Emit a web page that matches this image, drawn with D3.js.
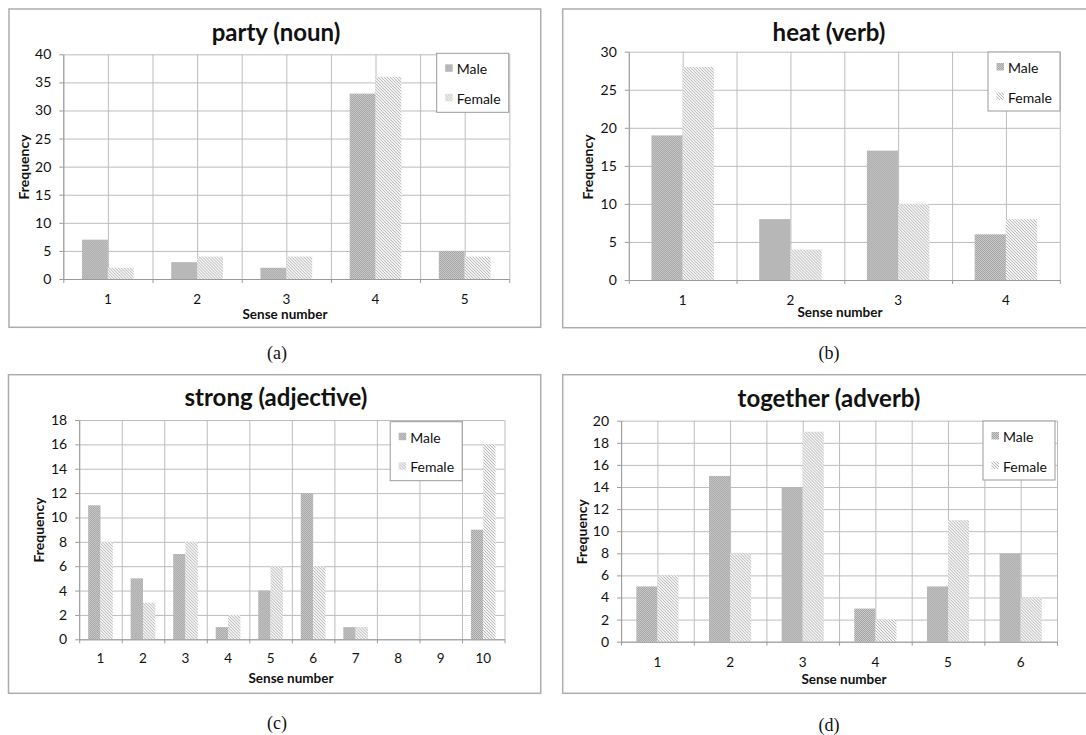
<!DOCTYPE html>
<html>
<head>
<meta charset="utf-8">
<script src="https://cdn.jsdelivr.net/npm/d3@7"></script>
<style>
  body { margin: 0; background: #fff; }
  text { font-family: Lato, "Open Sans", sans-serif; fill: #111; }
  .grid line { stroke: #bdbdbd; stroke-width: 1; }
  .grid path { stroke: none; }
  .axis path, .axis line { stroke: #9a9a9a; stroke-width: 1; }
</style>
</head>
<body>
<div id="chart"></div>
<script>
// ---- data ----
const seriesNames = ["Male", "Female"];

const partySenses = ["1", "2", "3", "4", "5"];
const partyMale = [7, 3, 2, 33, 5];
const partyFemale = [2, 4, 4, 36, 4];

const heatSenses = ["1", "2", "3", "4"];
const heatMale = [19, 8, 17, 6];
const heatFemale = [28, 4, 10, 8];

const strongSenses = ["1", "2", "3", "4", "5", "6", "7", "8", "9", "10"];
const strongMale = [11, 5, 7, 1, 4, 12, 1, 0, 0, 9];
const strongFemale = [8, 3, 8, 2, 6, 6, 1, 0, 0, 16];

const togetherSenses = ["1", "2", "3", "4", "5", "6"];
const togetherMale = [5, 15, 14, 3, 5, 8];
const togetherFemale = [6, 8, 19, 2, 11, 4];

// y axis tick values per chart
const partyTicks = d3.range(0, 41, 5);
const heatTicks = d3.range(0, 31, 5);
const strongTicks = d3.range(0, 19, 2);
const togetherTicks = d3.range(0, 21, 2);

// ---- layout for each panel ----
const panels = [
    { title: "party (noun)", caption: "(a)", cats: partySenses, male: partyMale, female: partyFemale, ticks: partyTicks,
      box: [9, 9, 540.7, 327.3], plot: { l: 63.3, r: 509.3, t: 54.3, b: 279 }, halfGrid: true,
      titleX: 276, titleY: 31, freqX: 23.5, freqY: 167, labelY: 299, senseX: 285, senseY: 314,
      legend: [436.7, 53.3], capX: 277, capY: 353 },
    { title: "heat (verb)", caption: "(b)", cats: heatSenses, male: heatMale, female: heatFemale, ticks: heatTicks,
      box: [562.7, 9, 1100, 327.7], plot: { l: 628.8, r: 1059.8, t: 51.7, b: 280 }, halfGrid: true,
      titleX: 829, titleY: 31, freqX: 587.7, freqY: 167, labelY: 300, senseX: 840, senseY: 312,
      legend: [988, 52], capX: 829, capY: 353 },
    { title: "strong (adjective)", caption: "(c)", cats: strongSenses, male: strongMale, female: strongFemale, ticks: strongTicks,
      box: [8.5, 374.7, 540.7, 693.3], plot: { l: 79.2, r: 504.5, t: 420, b: 639.3 }, halfGrid: false,
      titleX: 276, titleY: 396, freqX: 38, freqY: 530, labelY: 658, senseX: 291, senseY: 677.5,
      legend: [390.2, 421.7], capX: 277, capY: 723 },
    { title: "together (adverb)", caption: "(d)", cats: togetherSenses, male: togetherMale, female: togetherFemale, ticks: togetherTicks,
      box: [562.7, 374.7, 1100, 693.3], plot: { l: 621.1, r: 1057, t: 420.7, b: 641.7 }, halfGrid: true,
      titleX: 829, titleY: 397.5, freqX: 581, freqY: 531.7, labelY: 661.5, senseX: 844, senseY: 679,
      legend: [983, 421], capX: 829, capY: 725 }
];

const svg = d3.select("#chart").append("svg")
    .attr("width", 1086)
    .attr("height", 735);

// fill patterns: fine dotted grey for male, diagonal hatching for female
const defs = svg.append("defs");
const malePat = defs.append("pattern")
    .attr("id", "pat-male")
    .attr("patternUnits", "userSpaceOnUse")
    .attr("width", 2).attr("height", 2);
malePat.append("rect").attr("width", 2).attr("height", 2).attr("fill", "#cbcbcb");
malePat.append("rect").attr("width", 1).attr("height", 1).attr("fill", "#a4a4a4");
malePat.append("rect").attr("x", 1).attr("y", 1).attr("width", 1).attr("height", 1).attr("fill", "#a4a4a4");

const femalePat = defs.append("pattern")
    .attr("id", "pat-female")
    .attr("patternUnits", "userSpaceOnUse")
    .attr("width", 3).attr("height", 3);
femalePat.append("rect").attr("width", 3).attr("height", 3).attr("fill", "#f4f4f4");
femalePat.append("path")
    .attr("d", "M-1,-1 L4,4 M-1,2 L1,4 M2,-1 L4,1")
    .attr("stroke", "#b8b8b8")
    .attr("stroke-width", 1);

const fills = { Male: "url(#pat-male)", Female: "url(#pat-female)" };

panels.forEach(drawPanel);

function drawPanel(p) {
    const g = svg.append("g");
    const [bx0, by0, bx1, by1] = p.box;

    // outer frame
    g.append("rect")
        .attr("x", bx0).attr("y", by0)
        .attr("width", bx1 - bx0).attr("height", by1 - by0)
        .attr("fill", "#fff")
        .attr("stroke", "#adadad")
        .attr("stroke-width", 1.5);

    const y = d3.scaleLinear()
        .domain([0, d3.max(p.ticks)])
        .range([p.plot.b, p.plot.t]);

    const x = d3.scaleBand()
        .domain(p.cats)
        .range([p.plot.l, p.plot.r])
        .padding(0);

    // sub scale for the two series inside a category, group uses ~58% of the band
    const groupFrac = 0.58;
    const xs = d3.scaleBand()
        .domain(seriesNames)
        .range([0, x.bandwidth()])
        .paddingInner(0)
        .paddingOuter((1 / groupFrac - 1));

    // linear helper for category boundaries / half steps
    const xb = d3.scaleLinear()
        .domain([0, p.cats.length])
        .range([p.plot.l, p.plot.r]);
    const step = p.halfGrid ? 0.5 : 1;
    const vLines = d3.range(0, p.cats.length + 0.001, step);

    // horizontal grid
    g.append("g")
        .attr("class", "grid")
        .attr("transform", "translate(" + p.plot.l + ",0)")
        .call(d3.axisLeft(y).tickValues(p.ticks).tickSize(-(p.plot.r - p.plot.l)).tickFormat(""));

    // vertical grid
    g.append("g")
        .attr("class", "grid")
        .attr("transform", "translate(0," + p.plot.b + ")")
        .call(d3.axisBottom(xb).tickValues(vLines).tickSize(-(p.plot.b - p.plot.t)).tickFormat(""));

    // bars
    const rows = p.cats.map((c, i) => ({ cat: c, Male: p.male[i], Female: p.female[i] }));
    g.append("g")
        .selectAll("g")
        .data(rows)
        .join("g")
        .attr("transform", d => "translate(" + x(d.cat) + ",0)")
        .selectAll("rect")
        .data(d => seriesNames.map(s => ({ key: s, value: d[s] })))
        .join("rect")
        .attr("x", d => xs(d.key))
        .attr("width", xs.bandwidth())
        .attr("y", d => y(d.value))
        .attr("height", d => y(0) - y(d.value))
        .attr("fill", d => fills[d.key]);

    // y axis
    const yAxis = g.append("g")
        .attr("class", "axis")
        .attr("transform", "translate(" + p.plot.l + ",0)")
        .call(d3.axisLeft(y).tickValues(p.ticks).tickSize(4).tickPadding(8).tickSizeOuter(0));
    yAxis.selectAll("text").style("font-size", "14px").style("fill", "#111");

    // x axis: ticks at category boundaries, labels at centers
    g.append("g")
        .attr("class", "axis")
        .attr("transform", "translate(0," + p.plot.b + ")")
        .call(d3.axisBottom(xb).tickValues(d3.range(0, p.cats.length + 1)).tickSize(4).tickSizeOuter(0).tickFormat(""));

    g.append("g")
        .selectAll("text")
        .data(p.cats)
        .join("text")
        .attr("x", d => x(d) + x.bandwidth() / 2)
        .attr("y", p.labelY)
        .attr("text-anchor", "middle")
        .attr("dominant-baseline", "central")
        .style("font-size", "13.5px")
        .text(d => d);

    // titles
    g.append("text")
        .attr("x", p.titleX).attr("y", p.titleY)
        .attr("text-anchor", "middle")
        .attr("dominant-baseline", "central")
        .style("font-size", "24px")
        .style("font-weight", "bold")
        .text(p.title);

    g.append("text")
        .attr("x", p.senseX).attr("y", p.senseY)
        .attr("text-anchor", "middle")
        .attr("dominant-baseline", "central")
        .style("font-size", "13.5px")
        .style("font-weight", "bold")
        .text("Sense number");

    g.append("text")
        .attr("transform", "translate(" + p.freqX + "," + p.freqY + ") rotate(-90)")
        .attr("text-anchor", "middle")
        .attr("dominant-baseline", "central")
        .style("font-size", "14px")
        .style("font-weight", "bold")
        .text("Frequency");

    // legend
    const lg = g.append("g").attr("transform", "translate(" + p.legend[0] + "," + p.legend[1] + ")");
    lg.append("rect")
        .attr("width", 72).attr("height", 59)
        .attr("fill", "#fff")
        .attr("stroke", "#9a9a9a")
        .attr("stroke-width", 1);
    seriesNames.forEach((s, i) => {
        lg.append("rect")
            .attr("x", 8.5).attr("y", 11 + i * 29.5)
            .attr("width", 7.5).attr("height", 7.5)
            .attr("fill", fills[s]);
        lg.append("text")
            .attr("x", 20).attr("y", 15.5 + i * 29.5)
            .attr("dominant-baseline", "central")
            .style("font-size", "14px")
            .text(s);
    });

    // panel caption
    g.append("text")
        .attr("x", p.capX).attr("y", p.capY)
        .attr("text-anchor", "middle")
        .attr("dominant-baseline", "central")
        .style("font-family", "'Liberation Serif', serif")
        .style("font-size", "18px")
        .text(p.caption);
}
</script>
</body>
</html>
